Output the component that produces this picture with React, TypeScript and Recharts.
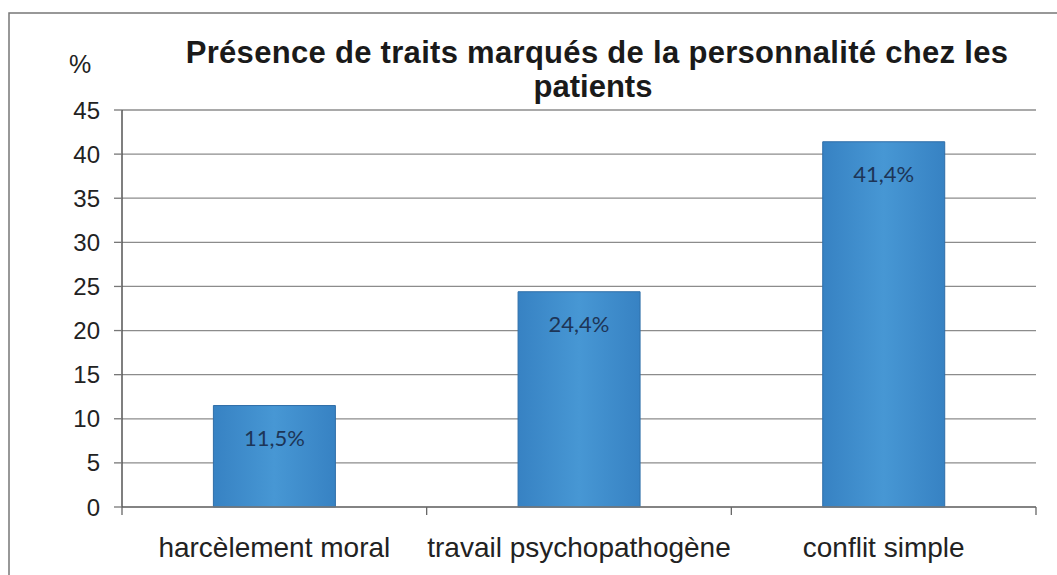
import { BarChart, Bar, XAxis, YAxis, CartesianGrid, LabelList } from 'recharts';

const categories = ['harcèlement moral', 'travail psychopathogène', 'conflit simple'];
const values = [11.5, 24.4, 41.4];
const yTicks = [0, 5, 10, 15, 20, 25, 30, 35, 40, 45];

const data = categories.map((name, i) => ({ name, value: values[i] }));

const FONT = '"Liberation Sans", Arial, sans-serif';
const TICK_SIZE = 8;
const TICK_MARGIN = 22;

// category label plus tick marks on the boundaries between categories
function CategoryTick(props: any) {
  const { x, y, payload, index, visibleTicksCount } = props;
  const half = payload?.offset ?? 0;
  const axisY = y - TICK_SIZE - TICK_MARGIN;
  const isLast = index === visibleTicksCount - 1;
  return (
    <g>
      <line x1={x - half} x2={x - half} y1={axisY} y2={axisY + TICK_SIZE} stroke="#666" strokeWidth={1.3} />
      {isLast && (
        <line x1={x + half} x2={x + half} y1={axisY} y2={axisY + TICK_SIZE} stroke="#666" strokeWidth={1.3} />
      )}
      <text x={x} y={y} dy="0.71em" textAnchor="middle" fontFamily={FONT} fontSize={28} fill="#222">
        {payload.value}
      </text>
    </g>
  );
}

export default function App() {
  return (
    <div style={{ position: 'absolute', left: 0, top: 0, width: 1057, height: 575, background: '#fff', overflow: 'hidden' }}>
      <svg width={1057} height={575} style={{ position: 'absolute', left: 0, top: 0 }}>
        <rect x={9} y={13} width={1200} height={700} fill="none" stroke="#777" strokeWidth={1.5} />
        <text x={597} y={63} textAnchor="middle" fontFamily={FONT} fontWeight="bold" fontSize={31} letterSpacing={0.3} fill="#1a1a1a">
          Présence de traits marqués de la personnalité chez les
        </text>
        <text x={593} y={97} textAnchor="middle" fontFamily={FONT} fontWeight="bold" fontSize={31} fill="#1a1a1a">
          patients
        </text>
        <text x={69} y={73} fontFamily={FONT} fontSize={25} fill="#222">
          %
        </text>
      </svg>
      <div style={{ position: 'absolute', left: 0, top: 0 }}>
        <BarChart
          width={1057}
          height={575}
          data={data}
          margin={{ top: 110, right: 21, bottom: 8, left: 0 }}
          barCategoryGap="30%"
        >
          <defs>
            <linearGradient id="barFill" x1="0" y1="0" x2="1" y2="0">
              <stop offset="0%" stopColor="#3782c3" />
              <stop offset="50%" stopColor="#4797d4" />
              <stop offset="100%" stopColor="#3782c3" />
            </linearGradient>
          </defs>
          <CartesianGrid vertical={false} stroke="#8c8c8c" strokeWidth={1.3} />
          <XAxis
            dataKey="name"
            tickLine={false}
            tickSize={TICK_SIZE}
            tickMargin={TICK_MARGIN}
            axisLine={{ stroke: '#777', strokeWidth: 1.3 }}
            tick={<CategoryTick />}
            interval={0}
            height={60}
          />
          <YAxis
            domain={[0, 45]}
            ticks={yTicks}
            width={122}
            tickSize={8}
            tickMargin={14}
            axisLine={{ stroke: '#555', strokeWidth: 1.5 }}
            tickLine={{ stroke: '#777', strokeWidth: 1.3 }}
            tick={{ fontFamily: FONT, fontSize: 24, fill: '#222' }}
          />
          <Bar dataKey="value" fill="url(#barFill)" stroke="#2f6ea8" strokeWidth={1} isAnimationActive={false}>
            <LabelList
              dataKey="value"
              position="insideTop"
              offset={25}
              formatter={(v: number) => `${String(v).replace('.', ',')}%`}
              style={{ fontFamily: 'Lato, "Open Sans", sans-serif', fontSize: 22, fill: '#1d3557' }}
            />
          </Bar>
        </BarChart>
      </div>
    </div>
  );
}
